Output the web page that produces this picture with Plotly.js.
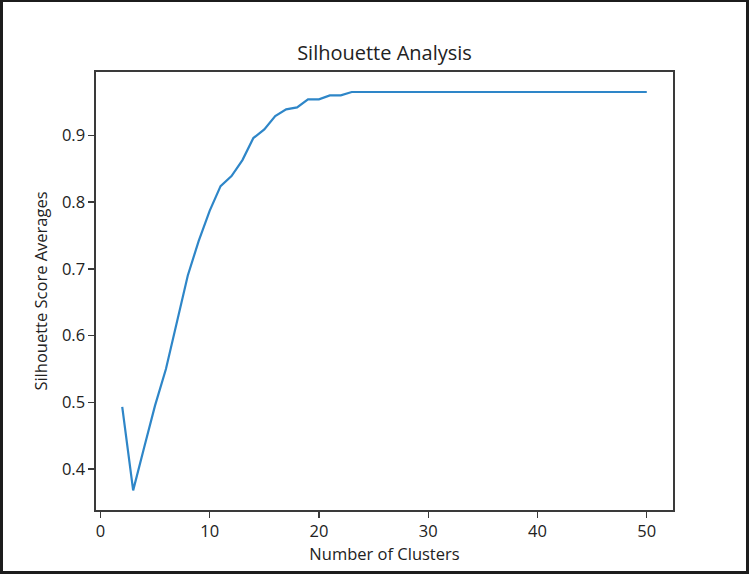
<!DOCTYPE html>
<html>
<head>
<meta charset="utf-8">
<script src="https://cdn.plot.ly/plotly-3.0.1.min.js"></script>
<style>
  html, body { margin: 0; padding: 0; background: #ffffff; }
  #frame { position: absolute; left: 0; top: 0; width: 749px; height: 574px; box-sizing: border-box; border: 3px solid #1c1c1c; border-top-width: 2px; pointer-events: none; z-index: 10; }
  #chart { position: absolute; left: 0; top: 0; width: 750px; height: 576px; }
</style>
</head>
<body>
<div id="chart"></div>
<div id="frame"></div>
<script>
// Number of clusters (k) and silhouette score averages
const clusters = [2, 3, 4, 5, 6, 7, 8, 9, 10, 11, 12, 13, 14, 15, 16, 17, 18, 19, 20, 21, 22, 23, 24, 25, 26,
  27, 28, 29, 30, 31, 32, 33, 34, 35, 36, 37, 38, 39, 40, 41, 42, 43, 44, 45, 46, 47, 48, 49, 50];
const scores = [0.493, 0.368, 0.432, 0.495, 0.550, 0.618, 0.690, 0.742, 0.787, 0.824, 0.839, 0.863, 0.896, 0.909, 0.929, 0.939, 0.942, 0.954, 0.954, 0.960, 0.960, 0.965, 0.965, 0.965, 0.965,
  0.965, 0.965, 0.965, 0.965, 0.965, 0.965, 0.965, 0.965, 0.965, 0.965, 0.965, 0.965, 0.965, 0.965, 0.965, 0.965, 0.965, 0.965, 0.965, 0.965, 0.965, 0.965, 0.965, 0.965];
const xTicks = [0, 10, 20, 30, 40, 50];
const yTicks = [0.4, 0.5, 0.6, 0.7, 0.8, 0.9];
const titleText = 'Silhouette Analysis';
const xLabel = 'Number of Clusters';
const yLabel = 'Silhouette Score Averages';

const FONT = '"Open Sans", "DejaVu Sans", sans-serif';
const AXIS_COLOR = '#3a3a3a';

const trace = {
  x: clusters,
  y: scores,
  type: 'scatter',
  mode: 'lines',
  line: { color: '#2e86c8', width: 2.2 },
  hoverinfo: 'x+y'
};

const axisCommon = {
  showgrid: false,
  zeroline: false,
  showline: true,
  mirror: true,
  linecolor: AXIS_COLOR,
  linewidth: 1.6,
  ticks: 'outside',
  ticklen: 6,
  tickwidth: 1.3,
  tickcolor: AXIS_COLOR,
  tickfont: { family: FONT, size: 16.5, color: '#222222' }
};

const layout = {
  width: 750,
  height: 576,
  paper_bgcolor: '#ffffff',
  plot_bgcolor: '#ffffff',
  margin: { l: 96, r: 77, t: 72, b: 66 },
  showlegend: false,
  title: {
    text: titleText,
    font: { family: FONT, size: 20, color: '#222222' },
    x: 0.5, xref: 'paper', xanchor: 'center',
    y: 1 - 53 / 576, yref: 'container', yanchor: 'middle'
  },
  xaxis: Object.assign({}, axisCommon, {
    range: [-0.4, 52.4],
    tickmode: 'array',
    tickvals: xTicks,
    ticktext: xTicks.map(v => String(v)),
    title: { text: xLabel, font: { family: FONT, size: 16.5, color: '#222222' }, standoff: 6 }
  }),
  yaxis: Object.assign({}, axisCommon, {
    range: [0.3386, 0.995],
    tickmode: 'array',
    tickvals: yTicks,
    ticktext: yTicks.map(v => v.toFixed(1)),
    title: { text: yLabel, font: { family: FONT, size: 16.5, color: '#222222' }, standoff: 10 }
  })
};

Plotly.newPlot('chart', [trace], layout, { displayModeBar: false, staticPlot: true });
</script>
</body>
</html>
